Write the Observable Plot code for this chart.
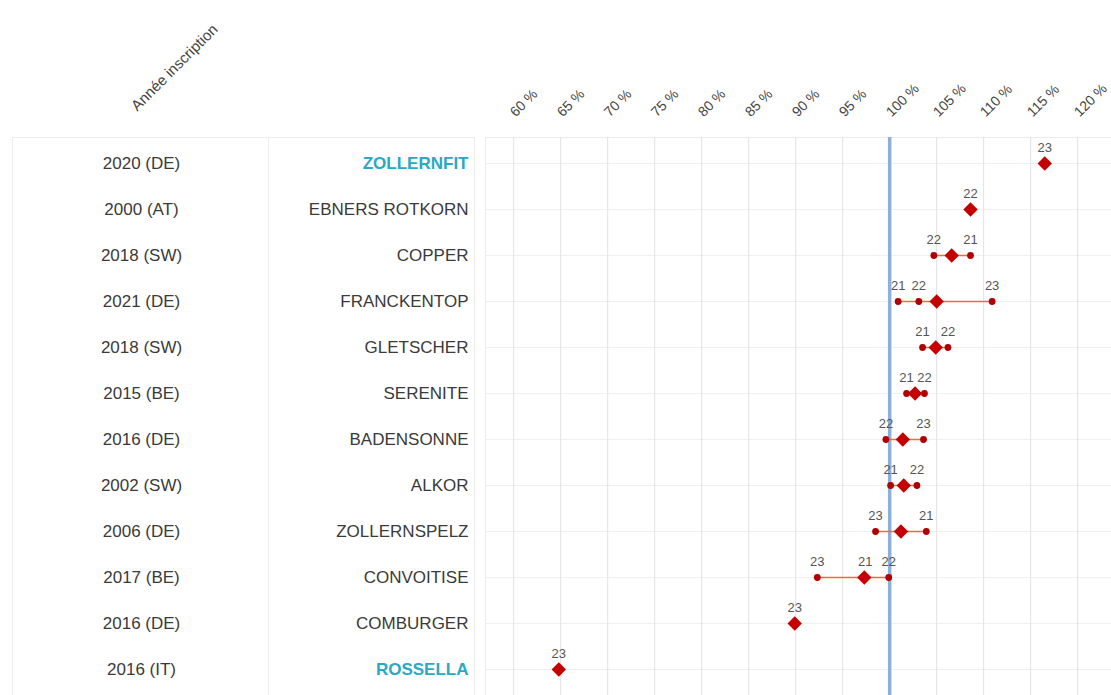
<!DOCTYPE html>
<html>
<head>
<meta charset="utf-8">
<script src="https://cdn.jsdelivr.net/npm/d3@7"></script>
<script src="https://cdn.jsdelivr.net/npm/@observablehq/plot@0.6"></script>
<style>
  html, body { margin: 0; padding: 0; background: #fff; }
  #chart svg { display: block; font-family: "Liberation Sans", Arial, sans-serif; }
</style>
</head>
<body>
<div id="chart"></div>
<script>
// ---- data ----
const varieties = ["ZOLLERNFIT","EBNERS ROTKORN","COPPER","FRANCKENTOP","GLETSCHER","SERENITE","BADENSONNE","ALKOR","ZOLLERNSPELZ","CONVOITISE","COMBURGER","ROSSELLA"];
const inscription = ["2020 (DE)","2000 (AT)","2018 (SW)","2021 (DE)","2018 (SW)","2015 (BE)","2016 (DE)","2002 (SW)","2006 (DE)","2017 (BE)","2016 (DE)","2016 (IT)"];
const highlighted = ["ZOLLERNFIT","ROSSELLA"];
const v21 = [null, null, 108.6, 100.9, 103.5, 101.8, null, 100.1, 103.9, 97.4, null, null];
const v22 = [null, 108.6, 104.7, 103.1, 106.2, 103.7, 99.6, 102.9, null, 99.9, null, null];
const v23 = [116.5, null, null, 110.9, null, null, 103.6, null, 98.5, 92.3, 89.9, 64.8];
const average = [116.5, 108.6, 106.6, 105.0, 104.9, 102.7, 101.4, 101.5, 101.2, 97.3, 89.9, 64.8];
const xTicks = [60, 65, 70, 75, 80, 85, 90, 95, 100, 105, 110, 115, 120];
const reference = [100];
const yearHeader = ["Année inscription"];

// ---- tables built from the arrays ----
const rows = varieties.map((name, i) => {
  const vals = [v21[i], v22[i], v23[i]].filter(v => v != null);
  return {name, year: inscription[i], mean: average[i], lo: d3.min(vals), hi: d3.max(vals), hl: highlighted.includes(name)};
});
const points = [];
varieties.forEach((name, i) => {
  [["21", v21[i]], ["22", v22[i]], ["23", v23[i]]].forEach(([yr, v]) => {
    if (v != null) points.push({name, yr, v});
  });
});

const ML = 485;
const chart = Plot.plot({
  width: 1111,
  height: 695,
  marginLeft: ML,
  marginRight: 0,
  marginTop: 137,
  marginBottom: 0,
  style: {fontFamily: "'Liberation Sans', Arial, sans-serif", background: "#fff", overflow: "visible"},
  x: {domain: [57.0, 123.6], axis: null},
  y: {type: "point", domain: varieties, padding: 0.5, axis: null},
  marks: [
    // panel borders
    Plot.frame({stroke: "#ececec", insetLeft: 12 - ML, insetRight: 1111 - 268}),
    Plot.frame({stroke: "#ececec", insetLeft: 268 - ML, insetRight: 1111 - 474}),
    Plot.frame({stroke: "#ececec"}),
    // grid
    Plot.gridY({stroke: "#efefef", strokeOpacity: 1}),
    Plot.gridX(xTicks, {stroke: "#e2e2e2", strokeOpacity: 1}),
    Plot.ruleX(reference, {stroke: "#8cb0db", strokeWidth: 3.5}),
    // range line
    Plot.ruleY(rows, {y: "name", x1: "lo", x2: "hi", stroke: "#ef6b3a", strokeWidth: 1.4}),
    // yearly points
    Plot.dot(points, {x: "v", y: "name", r: 3.4, fill: "#b00000", stroke: "none"}),
    // average diamond
    Plot.dot(rows, {x: "mean", y: "name", symbol: "diamond2", r: 6.5, fill: "#c40000", stroke: "none"}),
    // yearly labels
    Plot.text(points, {x: "v", y: "name", text: "yr", dy: -16, fontSize: 13, fill: "#555"}),
    // variety names
    Plot.text(rows.filter(d => !d.hl), {y: "name", text: "name", frameAnchor: "left", dx: 468 - ML, textAnchor: "end", fontSize: 17, fill: "#3a3a3a"}),
    Plot.text(rows.filter(d => d.hl), {y: "name", text: "name", frameAnchor: "left", dx: 468 - ML, textAnchor: "end", fontSize: 17, fontWeight: "bold", fill: "#29a9c4"}),
    // inscription years
    Plot.text(rows, {y: "name", text: "year", frameAnchor: "left", dx: 141 - ML, textAnchor: "middle", fontSize: 17, fill: "#3a3a3a"}),
    // x tick labels (top, rotated)
    Plot.text(xTicks, {x: d => d, text: d => `${d} %`, frameAnchor: "top", dx: -5, dy: -27, rotate: -45, textAnchor: "start", fontSize: 14, fill: "#444"}),
    // column header
    Plot.text(yearHeader, {text: d => d, frameAnchor: "top-left", dx: 170 - ML, dy: 63 - 137, rotate: -45, textAnchor: "middle", fontSize: 15, fill: "#444"})
  ]
});
document.getElementById("chart").append(chart);
</script>
</body>
</html>
